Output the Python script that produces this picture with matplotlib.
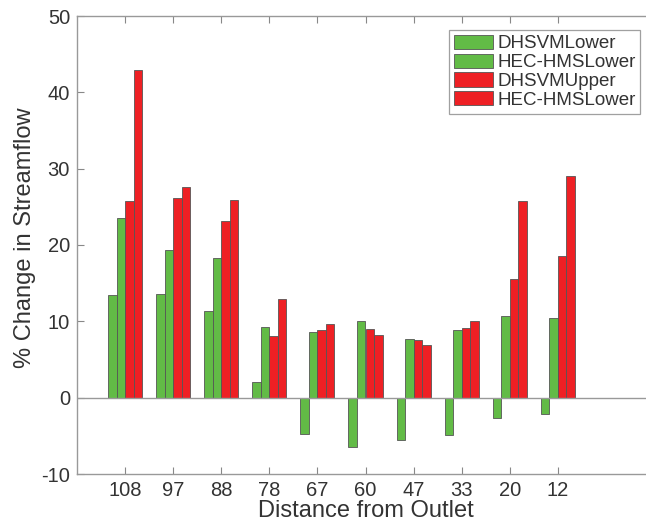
import matplotlib
matplotlib.use("Agg")
import matplotlib.pyplot as plt
import numpy as np

plt.rcParams['font.family'] = ['Liberation Sans', 'DejaVu Sans']
plt.rcParams['axes.unicode_minus'] = False

categories = ['108', '97', '88', '78', '67', '60', '47', '33', '20', '12']
dhsvm_lower = [13.5, 13.6, 11.4, 2.0, -4.7, -6.4, -5.6, -4.9, -2.6, -2.1]
hec_lower_g = [23.5, 19.3, 18.3, 9.2, 8.6, 10.1, 7.7, 8.8, 10.7, 10.5]
dhsvm_upper = [25.7, 26.1, 23.2, 8.1, 8.9, 9.0, 7.5, 9.1, 15.5, 18.6]
hec_lower_r = [42.9, 27.6, 25.9, 12.9, 9.6, 8.2, 6.9, 10.0, 25.7, 29.0]

series = [
    ('DHSVMLower', dhsvm_lower, '#62bb46'),
    ('HEC-HMSLower', hec_lower_g, '#62bb46'),
    ('DHSVMUpper', dhsvm_upper, '#ee2024'),
    ('HEC-HMSLower', hec_lower_r, '#ee2024'),
]

fig = plt.figure(figsize=(6.46, 5.24), dpi=100)
ax = fig.add_axes([77/646, 50/524, 577/646, 458/524])

x = np.arange(1, len(categories) + 1)
w = 0.177
for i, (lab, vals, col) in enumerate(series):
    ax.bar(x + (i - 1.5) * w, vals, width=w, color=col, edgecolor='#555555',
           linewidth=0.6, label=lab, zorder=3)

ax.axhline(0, color='#999999', linewidth=1.0, zorder=4)
ax.set_xlim(0, 12)
ax.set_ylim(-10, 50)
ax.set_xticks(x)
ax.set_xticklabels(categories)
ax.set_yticks(np.arange(-10, 51, 10))
ax.tick_params(direction='in', length=5, width=0.8, color='#888888',
               labelsize=14.5, colors='#333333', top=True, right=True, pad=5)
for s in ax.spines.values():
    s.set_color('#999999')
    s.set_linewidth(1.0)
ax.set_xlabel('Distance from Outlet', fontsize=17, color='#333333', labelpad=0)
ax.set_ylabel('% Change in Streamflow', fontsize=17, color='#333333', labelpad=4)
ax.yaxis.label.set_y(0.515)

leg = ax.legend(loc='upper left', fontsize=13.5, frameon=True, fancybox=False,
                edgecolor='#888888', handlelength=2.1, handleheight=0.8,
                handletextpad=0.22, labelspacing=0.06, borderpad=0.25,
                borderaxespad=0)
leg.set_bbox_to_anchor((449/646, 1 - 30/524), transform=fig.transFigure)
leg.get_frame().set_linewidth(0.9)
for t in leg.get_texts():
    t.set_color('#333333')

fig.savefig('out.png', dpi=100)
